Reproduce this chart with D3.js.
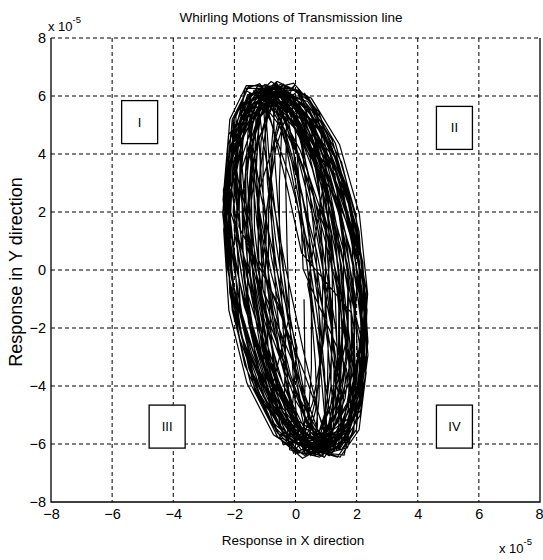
<!DOCTYPE html>
<html><head><meta charset="utf-8">
<script src="https://cdn.jsdelivr.net/npm/d3@7/dist/d3.min.js"></script>
<style>
html,body{margin:0;padding:0;background:#fff;}
svg text{font-family:"Liberation Sans",Arial,sans-serif;fill:#000;}
</style></head><body>
<svg id="chart" width="543" height="560"></svg>
<script>
// Axis tick values (units of 1e-5)
const xTicks = [-8, -6, -4, -2, 0, 2, 4, 6, 8];
const yTicks = [-8, -6, -4, -2, 0, 2, 4, 6, 8];

// Quadrant annotations
const quadrantLabels = ["I", "II", "III", "IV"];
const quadrantX = [-5.1, 5.2, -4.2, 5.2];
const quadrantY = [5.1, 4.9, -5.4, -5.4];

// Whirling orbit of the line: X response, one row per revolution (x 1e-5)
const xResp = [
  2.2,1.69,0.87,-0.11,-1.07,-1.83,-2.26,-2.25,-1.83,-1.07,-0.09,0.89,1.71,2.2,2.29,
  1.67,0.89,-0.06,-1.0,-1.76,-2.17,-2.19,-1.8,-1.07,-0.13,0.83,1.62,2.12,2.22,1.9,
  1.22,0.57,-0.19,-0.92,-1.47,-1.75,-1.7,-1.33,-0.71,0.04,0.79,1.39,1.72,1.73,1.43,
  0.28,-0.41,-1.01,-1.43,-1.58,-1.44,-1.03,-0.42,0.27,0.9,1.37,1.58,1.49,1.12,0.54,
  -0.07,-0.52,-0.87,-1.06,-1.06,-0.85,-0.48,-0.03,0.43,0.81,1.04,1.07,0.9,0.57,0.12,
  -0.61,-0.89,-1.0,-0.92,-0.67,-0.29,0.15,0.54,0.85,0.99,0.95,0.73,0.37,-0.05,-0.47,
  -1.1,-1.42,-1.48,-1.25,-0.8,-0.19,0.45,1.01,1.37,1.49,1.32,0.9,0.32,-0.33,-0.91,
  -0.75,-1.21,-1.44,-1.4,-1.1,-0.59,0.03,0.63,1.13,1.41,1.42,1.18,0.71,0.1,-0.52,
  -1.59,-1.93,-1.91,-1.53,-0.87,-0.04,0.8,1.48,1.89,1.95,1.63,1.01,0.21,-0.64,-1.37,
  -1.9,-2.18,-2.04,-1.52,-0.72,0.22,1.12,1.81,2.15,2.1,1.65,0.89,-0.04,-0.96,-1.7,
  -2.36,-2.27,-1.76,-0.92,0.1,1.09,1.88,2.32,2.33,1.9,1.11,0.11,-0.9,-1.75,-2.27,
  -2.12,-1.68,-0.93,0.0,0.93,1.68,2.12,2.17,1.79,1.1,0.19,-0.75,-1.55,-2.06,-2.19,
  -1.5,-1.06,-0.42,0.29,0.95,1.43,1.65,1.55,1.17,0.57,-0.15,-0.83,-1.36,-1.63,-1.6,
  -0.93,-0.52,-0.02,0.5,0.92,1.16,1.19,0.99,0.61,0.12,-0.4,-0.85,-1.13,-1.2,-1.06,
  -0.11,0.42,0.87,1.15,1.22,1.05,0.7,0.21,-0.32,-0.79,-1.11,-1.22,-1.11,-0.79,-0.32,
  -0.36,0.25,0.8,1.21,1.38,1.3,0.98,0.47,-0.12,-0.7,-1.14,-1.37,-1.34,-1.06,-0.58,
  0.24,1.06,1.68,1.98,1.91,1.49,0.79,-0.06,-0.9,-1.57,-1.95,-1.96,-1.6,-0.94,-0.11,
  -0.23,0.65,1.4,1.88,2.02,1.78,1.2,0.4,-0.47,-1.26,-1.81,-2.02,-1.85,-1.34,-0.58,
  0.8,1.65,2.2,2.34,2.03,1.34,0.41,-0.61,-1.5,-2.13,-2.34,-2.12,-1.51,-0.6,0.41,
  1.12,1.81,2.15,2.1,1.65,0.89,-0.04,-0.96,-1.7,-2.12,-2.14,-1.76,-1.06,-0.16,0.78,
  1.77,2.04,1.94,1.48,0.74,-0.15,-1.0,-1.67,-2.02,-2.0,-1.6,-0.9,-0.03,0.84,1.56,
  1.41,1.53,1.34,0.91,0.31,-0.35,-0.94,-1.36,-1.52,-1.4,-1.02,-0.44,0.22,0.83,1.29,
  2.18,2.07,1.57,0.77,-0.17,-1.07,-1.78,-2.16,-2.13,-1.7,-0.95,-0.03,0.9,1.67,2.11,
  2.26,2.08,1.51,0.67,-0.31,-1.22,-1.91,-2.24,-2.15,-1.66,-0.85,0.11,1.05,1.79,2.2,
  2.01,1.28,0.32,-0.71,-1.6,-2.2,-2.38,-2.11,-1.46,-0.52,0.51,1.44,2.1,2.37,2.2,
  1.17,0.22,-0.77,-1.61,-2.15,-2.3,-2.0,-1.35,-0.42,0.57,1.46,2.08,2.31,2.1,1.5,
  1.1,0.5,-0.2,-0.86,-1.36,-1.6,-1.55,-1.2,-0.63,0.06,0.74,1.27,1.57,1.57,1.29,
  -0.46,-1.17,-1.66,-1.84,-1.68,-1.2,-0.5,0.3,1.04,1.59,1.84,1.74,1.32,0.65,-0.14,
  -0.68,-0.94,-1.03,-0.93,-0.65,-0.25,0.2,0.61,0.9,1.03,0.96,0.71,0.33,-0.11,-0.53,
  -0.02,-0.4,-0.71,-0.88,-0.89,-0.73,-0.44,-0.06,0.33,0.66,0.86,0.9,0.78,0.5,0.13,
  -1.51,-1.81,-1.78,-1.4,-0.78,0.0,0.78,1.4,1.78,1.81,1.51,0.92,0.16,-0.63,-1.3,
  -1.16,-1.72,-1.94,-1.8,-1.33,-0.6,0.23,1.03,1.62,1.93,1.86,1.45,0.76,-0.06,-0.88,
  -2.19,-2.37,-2.1,-1.43,-0.51,0.52,1.45,2.11,2.37,2.19,1.59,0.7,-0.31,-1.28,-2.0,
  -2.06,-2.17,-1.87,-1.22,-0.35,0.6,1.43,2.0,2.19,1.97,1.38,0.53,-0.42,-1.28,-1.9,
  -2.04,-1.58,-0.82,0.08,0.98,1.7,2.09,2.09,1.7,0.99,0.09,-0.82,-1.58,-2.04,-2.12,
  -1.76,-1.33,-0.63,0.17,0.95,1.54,1.85,1.81,1.43,0.79,0.0,-0.8,-1.44,-1.81,-1.85,
  -0.56,0.09,0.73,1.22,1.49,1.49,1.19,0.69,0.04,-0.6,-1.14,-1.47,-1.51,-1.27,-0.8,
  -0.11,0.2,0.48,0.66,0.72,0.65,0.45,0.17,-0.14,-0.42,-0.63,-0.72,-0.67,-0.49,-0.23,
  -0.77,-0.42,0.0,0.42,0.77,0.97,0.99,0.82,0.5,0.09,-0.34,-0.71,-0.94,-1.0,-0.87,
  -0.04,0.73,1.36,1.73,1.78,1.5,0.94,0.19,-0.58,-1.25,-1.68,-1.8,-1.58,-1.07,-0.35,
  -0.19,0.79,1.62,2.14,2.27,1.97,1.3,0.39,-0.6,-1.47,-2.08,-2.29,-2.07,-1.46,-0.58,
  0.82,1.66,2.19,2.31,2.0,1.32,0.39,-0.62,-1.51,-2.12,-2.32,-2.1,-1.48,-0.58,0.43,
  0.69,1.31,1.67,1.72,1.46,0.92,0.2,-0.55,-1.2,-1.62,-1.74,-1.54,-1.04,-0.36,0.4,
  1.18,1.45,1.44,1.16,0.66,0.04,-0.59,-1.1,-1.41,-1.46,-1.23,-0.78,-0.18,0.46,1.02,
  2.14,2.23,1.9,1.21,0.3,-0.67,-1.51,-2.07,-2.25,-1.99,-1.38,-0.49,0.48,1.37,1.99,
  2.17,2.36,2.09,1.44,0.52,-0.5,-1.42,-2.08,-2.35,-2.18,-1.59,-0.72,0.3,1.26,1.98,
  2.28,2.01,1.37,0.47,-0.52,-1.41,-2.04,-2.28,-2.1,-1.52,-0.66,0.33,1.26,1.95,2.27,
  1.69,1.12,0.35,-0.48,-1.24,-1.75,-1.94,-1.77,-1.27,-0.52,0.32,1.1,1.68,1.94,1.83,
  0.2,-0.34,-0.81,-1.13,-1.24,-1.11,-0.78,-0.3,0.24,0.73,1.08,1.23,1.15,0.86,0.4,
  1.01,0.72,0.3,-0.19,-0.64,-0.96,-1.12,-1.05,-0.79,-0.39,0.09,0.56,0.92,1.1,1.08,
  -0.06,-0.4,-0.66,-0.8,-0.78,-0.62,-0.34,0.0,0.34,0.62,0.77,0.8,0.67,0.41,0.07,
  -1.6,-1.95,-1.92,-1.54,-0.87,-0.04,0.81,1.5,1.91,1.96,1.65,1.02,0.2,-0.65,-1.38,
  -0.45,-0.53,-0.52,-0.4,-0.21,0.02,0.24,0.42,0.52,0.52,0.43,0.25,0.03,-0.2,-0.39,
  -1.25,-1.0,-0.57,-0.03,0.51,0.96,1.23,1.27,1.07,0.67,0.14,-0.41,-0.89,-1.19,-1.28,
  -1.17,-0.89,-0.44,0.09,0.6,1.0,1.22,1.2,0.96,0.54,0.02,-0.51,-0.94,-1.19,-1.23,
  0.31,0.91,1.34,1.53,1.41,1.04,0.48,-0.18,-0.81,-1.28,-1.51,-1.46,-1.13,-0.6,0.05,
  -0.18,0.5,1.08,1.47,1.58,1.39,0.94,0.32,-0.37,-0.98,-1.41,-1.58,-1.45,-1.05,-0.45,
  1.08,1.32,1.31,1.06,0.61,0.05,-0.53,-1.0,-1.29,-1.33,-1.13,-0.72,-0.17,0.42,0.92,
  0.97,0.8,0.48,0.07,-0.36,-0.71,-0.93,-0.98,-0.85,-0.55,-0.16,0.27,0.65,0.9,0.99,
  1.65,1.4,0.89,0.21,-0.51,-1.13,-1.54,-1.66,-1.47,-1.01,-0.35,0.37,1.02,1.48,1.67,
  0.25,0.15,0.01,-0.13,-0.24,-0.3,-0.32,-0.27,-0.17,-0.04,0.1,0.22,0.3,0.31,0.28
];

// Y response, same samples (x 1e-5)
const yResp = [
  0.26,2.86,4.92,6.06,6.06,4.93,2.87,0.28,-2.36,-4.56,-5.92,-6.16,-5.24,-3.35,-0.82,
  1.89,4.3,5.9,6.4,5.7,3.94,1.43,-1.35,-3.87,-5.66,-6.39,-5.94,-4.35,-1.96,0.8,
  3.22,5.11,6.04,5.84,4.54,2.4,-0.2,-2.76,-4.8,-5.94,-5.98,-4.89,-2.88,-0.33,2.28,
  4.28,5.6,5.87,5.03,3.26,0.87,-1.68,-3.91,-5.42,-5.9,-5.28,-3.67,-1.38,1.19,3.52,
  5.26,5.99,5.6,4.16,1.95,-0.63,-3.1,-4.97,-5.93,-5.77,-4.53,-2.44,0.11,2.64,4.67,
  6.01,6.1,5.04,3.04,0.47,-2.19,-4.43,-5.85,-6.17,-5.33,-3.5,-1.01,1.68,4.04,5.65,
  6.3,5.66,3.96,1.51,-1.22,-3.72,-5.52,-6.28,-5.88,-4.37,-2.04,0.67,3.25,5.23,6.23,
  5.76,4.49,2.39,-0.17,-2.69,-4.71,-5.84,-5.88,-4.81,-2.85,-0.35,2.21,4.36,5.7,5.97,
  5.26,3.38,0.86,-1.82,-4.16,-5.71,-6.2,-5.53,-3.82,-1.4,1.3,3.74,5.48,6.2,5.75,
  4.34,1.95,-0.81,-3.42,-5.38,-6.34,-6.12,-4.74,-2.48,0.25,2.94,5.06,6.24,6.26,5.1,
  2.77,0.26,-2.29,-4.42,-5.73,-5.96,-5.07,-3.23,-0.78,1.8,4.06,5.55,6.0,5.33,3.66,
  1.28,-1.24,-3.52,-5.14,-5.8,-5.37,-3.94,-1.76,0.73,3.1,4.88,5.75,5.54,4.29,2.24,
  -0.18,-2.78,-4.87,-6.04,-6.08,-4.98,-2.94,-0.36,2.29,4.51,5.89,6.16,5.28,3.41,0.9,
  -1.79,-4.22,-5.85,-6.4,-5.75,-4.02,-1.53,1.24,3.78,5.61,6.38,5.98,4.43,2.07,-0.69,
  -3.12,-5.05,-6.02,-5.87,-4.62,-2.51,0.08,2.65,4.72,5.91,6.0,4.95,2.98,0.45,-2.17,
  -4.27,-5.6,-5.87,-5.04,-3.28,-0.89,1.67,3.9,5.41,5.9,5.29,3.68,1.39,-1.17,-3.5,
  -5.56,-6.29,-5.86,-4.32,-1.97,0.74,3.31,5.27,6.24,6.04,4.71,2.49,-0.19,-2.83,-4.95,
  -5.95,-5.97,-4.86,-2.84,-0.29,2.32,4.48,5.81,6.06,5.16,3.3,0.82,-1.81,-4.1,-5.63,
  -6.3,-5.6,-3.85,-1.38,1.36,3.83,5.59,6.29,5.83,4.27,1.91,-0.81,-3.38,-5.31,-6.26,
  -5.64,-4.36,-2.27,0.25,2.73,4.68,5.76,5.77,4.69,2.73,0.26,-2.26,-4.35,-5.64,-5.86,
  -5.09,-3.26,-0.82,1.76,4.03,5.53,6.0,5.35,3.69,1.34,-1.26,-3.62,-5.31,-6.0,-5.56,
  -4.26,-1.96,0.71,3.25,5.18,6.14,5.95,4.64,2.47,-0.17,-2.77,-4.86,-6.03,-6.08,-4.98,
  -2.89,-0.3,2.35,4.55,5.91,6.16,5.25,3.36,0.84,-1.84,-4.17,-5.72,-6.2,-5.52,-3.81,
  -1.33,1.32,3.71,5.41,6.1,5.64,4.13,1.85,-0.79,-3.28,-5.15,-6.06,-5.82,-4.5,-2.34,
  1.37,3.88,5.67,6.39,5.93,4.34,1.95,-0.82,-3.43,-5.39,-6.35,-6.11,-4.73,-2.47,0.26,
  2.96,5.13,6.34,6.36,5.19,3.05,0.34,-2.44,-4.76,-6.19,-6.45,-5.51,-3.54,-0.9,1.9,
  4.2,5.79,6.3,5.63,3.9,1.45,-1.29,-3.78,-5.56,-6.29,-5.86,-4.32,-1.97,0.74,3.31,
  5.4,6.42,6.24,4.89,2.62,-0.14,-2.88,-5.07,-6.32,-6.38,-5.24,-3.13,-0.43,2.35,4.7,
  5.94,6.26,5.43,3.57,1.04,-1.69,-4.1,-5.74,-6.3,-5.68,-4.0,-1.57,1.16,3.67,5.49,
  6.38,5.98,4.44,2.09,-0.67,-3.3,-5.3,-6.32,-6.15,-4.83,-2.61,0.11,2.81,4.97,6.21,
  6.08,4.99,2.96,0.38,-2.27,-4.49,-5.88,-6.17,-5.29,-3.43,-0.92,1.76,4.11,5.69,6.2,
  5.79,4.0,1.46,-1.36,-3.92,-5.75,-6.49,-6.03,-4.44,-2.0,0.8,3.45,5.45,6.44,6.22,
  4.67,2.43,-0.25,-2.89,-4.99,-6.15,-6.17,-5.02,-2.93,-0.3,2.39,4.63,6.01,6.25,5.33,
  3.35,0.83,-1.85,-4.18,-5.73,-6.2,-5.51,-3.8,-1.37,1.33,3.77,5.5,6.2,5.74,4.2,
  2.0,-0.76,-3.37,-5.35,-6.33,-6.13,-4.77,-2.53,0.2,2.89,5.03,6.23,6.27,5.13,3.03,
  0.37,-2.41,-4.74,-6.18,-6.45,-5.53,-3.57,-0.93,1.87,4.33,5.97,6.5,5.81,4.03,1.49,
  -1.2,-3.7,-5.51,-6.28,-5.89,-4.38,-2.06,0.65,3.24,5.22,6.23,6.06,4.77,2.57,-0.1,
  -2.8,-5.01,-6.29,-6.39,-5.29,-3.21,-0.52,2.27,4.64,6.13,6.47,5.6,3.69,1.08,-1.73,
  -4.08,-5.67,-6.2,-5.57,-3.9,-1.49,1.2,3.66,5.43,6.19,5.79,4.3,2.01,-0.66,-3.2,
  -5.34,-6.33,-6.13,-4.78,-2.55,0.18,2.87,5.02,6.23,6.27,5.14,3.04,0.38,-2.36,-4.65,
  -6.2,-6.45,-5.5,-3.52,-0.87,1.93,4.38,6.0,6.5,5.78,3.98,1.43,-1.39,-3.94,-5.76,
  -6.29,-5.83,-4.27,-1.91,0.8,3.37,5.3,6.25,6.03,4.67,2.43,-0.25,-2.89,-4.99,-6.15,
  -6.08,-4.97,-2.93,-0.34,2.31,4.52,5.9,6.16,5.27,3.4,0.88,-1.8,-4.14,-5.7,-6.2,
  -5.73,-4.0,-1.51,1.27,3.8,5.62,6.38,5.97,4.41,2.04,-0.72,-3.34,-5.33,-6.33,-6.14,
  -4.83,-2.54,0.23,2.96,5.13,6.34,6.36,5.19,3.05,0.34,-2.44,-4.76,-6.19,-6.45,-5.51,
  -3.44,-0.83,1.93,4.33,5.92,6.4,5.68,3.91,1.39,-1.39,-3.9,-5.68,-6.39,-5.92,-4.32,
  -1.88,0.79,3.32,5.22,6.15,5.93,4.59,2.39,-0.25,-2.85,-4.91,-6.05,-6.07,-4.94,-2.88,
  -0.37,2.37,4.65,6.08,6.35,5.44,3.51,0.92,-1.84,-4.27,-5.88,-6.4,-5.72,-3.97,-1.48,
  0.59,3.18,5.18,6.22,6.08,4.8,2.62,-0.04,-2.7,-4.86,-6.1,-6.2,-5.14,-3.12,-0.51,
  3.61,5.35,6.09,5.69,4.22,1.97,-0.66,-3.16,-5.07,-6.03,-5.86,-4.59,-2.46,0.13,2.7,
  5.83,6.4,5.77,4.06,1.58,-1.19,-3.74,-5.58,-6.38,-5.99,-4.46,-2.11,0.64,3.27,5.29,
  6.17,5.29,3.43,0.92,-1.76,-4.11,-5.69,-6.2,-5.55,-3.87,-1.46,1.24,3.69,5.45,6.19,
  4.88,2.95,0.46,-2.11,-4.28,-5.66,-5.97,-5.17,-3.39,-0.98,1.61,3.91,5.47,6.0,5.41,
  2.55,-0.12,-2.77,-4.91,-6.12,-6.19,-5.09,-3.05,-0.43,2.26,4.53,5.96,6.26,5.4,3.52,
  -0.7,-3.32,-5.32,-6.32,-6.14,-4.81,-2.58,0.14,2.84,4.99,6.22,6.28,5.16,3.08,0.42,
  -3.62,-5.41,-6.19,-5.81,-4.33,-2.05,0.61,3.16,5.12,6.12,5.97,4.7,2.56,-0.07,-2.68,
  -5.79,-6.3,-5.63,-3.91,-1.46,1.28,3.77,5.55,6.29,5.86,4.32,1.98,-0.73,-3.31,-5.26,
  -6.07,-5.22,-3.41,-0.95,1.69,4.0,5.58,6.1,5.48,3.84,1.47,-1.17,-3.59,-5.34,-6.09,
  -5.21,-3.16,-0.51,2.24,4.56,6.04,6.37,5.51,3.63,1.06,-1.71,-4.16,-5.82,-6.4,-5.78,
  -2.47,0.17,2.77,4.86,6.03,6.08,4.98,2.95,0.37,-2.28,-4.5,-5.89,-6.17,-5.28,-3.42,
  0.03,2.57,4.62,5.81,5.9,4.89,2.97,0.49,-2.08,-4.26,-5.65,-5.98,-5.18,-3.42,-1.01
];

const svg = d3.select("#chart");
const plotLeft = 51, plotRight = 540, plotTop = 38, plotBottom = 502;

const x = d3.scaleLinear().domain([-8, 8]).range([plotLeft, plotRight]);
const y = d3.scaleLinear().domain([-8, 8]).range([plotBottom, plotTop]);

// Dashed grid
const grid = svg.append("g").attr("stroke", "#000").attr("stroke-width", 1)
  .attr("stroke-dasharray", "4,3").attr("fill", "none");
grid.selectAll("line.v").data(xTicks.slice(1, -1)).join("line")
  .attr("class", "v")
  .attr("x1", d => x(d)).attr("x2", d => x(d))
  .attr("y1", plotTop).attr("y2", plotBottom);
grid.selectAll("line.h").data(yTicks.slice(1)).join("line")
  .attr("class", "h")
  .attr("x1", plotLeft).attr("x2", plotRight)
  .attr("y1", d => y(d)).attr("y2", d => y(d));

// Orbit trace
const idx = d3.range(xResp.length);
const orbit = d3.line().x(i => x(xResp[i])).y(i => y(yResp[i]));
svg.append("path").datum(idx)
  .attr("d", orbit)
  .attr("fill", "none")
  .attr("stroke", "#000")
  .attr("stroke-width", 1.2)
  .attr("stroke-linejoin", "miter");

// Axes frame (left, bottom, right solid)
svg.append("path")
  .attr("d", `M${plotLeft},${plotTop}V${plotBottom}H${plotRight}V${plotTop}`)
  .attr("fill", "none").attr("stroke", "#000").attr("stroke-width", 1.3);

// Tick labels
const xAxis = d3.axisBottom(x).tickValues(xTicks).tickSize(0).tickPadding(7)
  .tickFormat(d3.format("d"));
const gx = svg.append("g").attr("transform", `translate(0,${plotBottom})`).call(xAxis);
gx.select(".domain").remove();
gx.selectAll("text").attr("font-size", 14.5).style("font-family", '"Liberation Sans",Arial,sans-serif').attr("fill", "#000");
// keep the last label inside the page edge
gx.selectAll(".tick").filter(d => d === xTicks[xTicks.length - 1])
  .select("text").attr("text-anchor", "end").attr("x", 3);

const yAxis = d3.axisLeft(y).tickValues(yTicks).tickSize(0).tickPadding(5)
  .tickFormat(d3.format("d"));
const gy = svg.append("g").attr("transform", `translate(${plotLeft},0)`).call(yAxis);
gy.select(".domain").remove();
gy.selectAll("text").attr("font-size", 14.5).style("font-family", '"Liberation Sans",Arial,sans-serif').attr("fill", "#000");

// Title and axis labels
svg.append("text").attr("x", 291).attr("y", 22).attr("text-anchor", "middle")
  .attr("font-size", 13.5).text("Whirling Motions of Transmission line");
svg.append("text").attr("x", 293).attr("y", 545).attr("text-anchor", "middle")
  .attr("font-size", 13.5).text("Response in X direction");
svg.append("text").attr("transform", "translate(22,272) rotate(-90)")
  .attr("text-anchor", "middle").attr("font-size", 18).text("Response in Y direction");

// Exponent markers
function expLabel(px, py) {
  const t = svg.append("text").attr("x", px).attr("y", py).attr("font-size", 13);
  t.append("tspan").text("x 10");
  t.append("tspan").attr("dy", -8).attr("font-size", 9.5).text("-5");
}
expLabel(48, 31);
expLabel(499, 553);

// Quadrant boxes
const bw = 36, bh = 43;
const q = svg.append("g");
quadrantLabels.forEach((lab, i) => {
  const cx = x(quadrantX[i]), cy = y(quadrantY[i]);
  q.append("rect").attr("x", cx - bw / 2).attr("y", cy - bh / 2)
    .attr("width", bw).attr("height", bh)
    .attr("fill", "#fff").attr("stroke", "#000").attr("stroke-width", 1.3);
  q.append("text").attr("x", cx).attr("y", cy).attr("dy", "0.35em")
    .attr("text-anchor", "middle").attr("font-size", 13).text(lab);
});
</script>
</body></html>
